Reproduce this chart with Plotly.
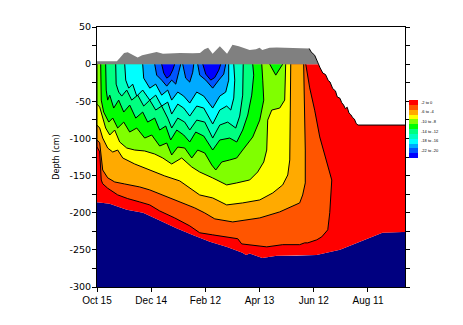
import pandas as pd
import plotly.graph_objects as go

START = pd.Timestamp("1997-10-15")
END_DAY = 341

# ---- band colours, warmest (top of key) to coldest ----
band_colors = ["#FF0000", "#FF5500", "#FFAA00", "#FFFF00", "#80FF00", "#00FF00",
               "#00FF80", "#00FFC0", "#00FFFF", "#00AAFF", "#0055FF", "#0000FF"]
band_labels = ["-2 to 0", "-4 to -2", "-6 to -4", "-8 to -6", "-10 to -8", "-12 to -10",
               "-14 to -12", "-16 to -14", "-18 to -16", "-20 to -18", "-22 to -20", "-24 to -22"]
water_color = "#000080"
snow_color = "#808080"

# ---- snow surface (cm above ice top), days since Oct 15 ----
snow_day = [0, 22, 25, 30, 34, 40, 45, 50, 56, 62, 66, 73, 92, 106, 114, 119, 123, 128,
            136, 144, 150, 157, 169, 176, 180, 183, 191, 199, 224, 235, 237, 241, 245]
snow_top = [4, 4, 8, 15, 16, 12, 9, 12, 14, 15, 16.5, 14, 15, 14.5, 15, 20, 22, 14,
            24, 14, 26, 24, 19, 20, 22, 19, 22, 22.5, 22, 21, 16.5, 12, 0]

# ---- ice surface during melt ----
surf_day = [245, 247, 250, 253, 256, 258, 261, 264, 266, 269, 271, 273, 275, 277, 279,
            281, 283, 285, 287, 289, 341]
surf_depth = [0, -5, -12, -14, -22, -24, -33, -36, -44, -46, -52, -55, -60, -58, -66,
              -68, -72, -74, -80, -82, -82]

# ---- ice bottom ----
bot_day = [0, 14, 33, 51, 69, 88, 106, 125, 144, 161, 165, 169, 183, 199, 221, 243,
           269, 291, 316, 338, 341]
bot_depth = [-186, -188, -196, -200, -210, -221, -230, -239, -246, -254, -257, -255,
             -261, -258, -258, -257, -250, -239, -227, -226, -226]

# ---- isotherm outlines: region colder than each band edge (days, cm) ----
iso1_day = [0, 0, 3, 4.1, 4.7, 6.3, 11.8, 22.9, 34, 47.3, 58.4, 69.4, 86, 102.7, 113.7,
            128.1, 143.6, 155.8, 160.2, 169.1, 187.9, 205.6, 224.4, 229.9, 233.3, 243.3,
            248.8, 255.5, 257.7, 259.9, 253.2, 246.6, 241, 235.5, 231.1]
iso1_depth = [0, -111.5, -118, -136, -156, -161, -167, -176, -181, -185.5, -189.5, -197.6,
              -207, -217.7, -227, -229.8, -232.5, -235, -242, -243, -246, -243, -243,
              -240.6, -240.6, -236.5, -232.5, -223, -200, -156, -128, -98, -62, -32, 0]

iso2_day = [0, 0, 3, 4.7, 6.3, 11.8, 19.6, 30.7, 47.3, 58.4, 75, 91.6, 108.2, 119.3, 130.4,
            150.3, 163.6, 180.2, 202.3, 218.9, 224.4, 227.7, 230.6, 230.6, 229.9, 228.8]
iso2_depth = [0, -102, -106, -129, -142.5, -153, -158.6, -161.3, -165.3, -169.3, -177.4,
              -185.5, -193.5, -200.3, -208.3, -212.4, -209.7, -207, -198.9, -189.5, -186.8,
              -176.1, -159.9, -115.6, -61.8, 0]

iso3_day = [0, 0, 3, 6.3, 11.8, 17.4, 22.9, 28.5, 41.7, 58.4, 75, 91.6, 102.7, 113.7, 128.1,
            143.6, 161.3, 180.2, 194.6, 205.6, 211.2, 213.4, 214, 214.5]
iso3_depth = [0, -82, -86, -99.5, -112.9, -118.3, -115.6, -126.3, -134.4, -142.5, -150.5,
              -157.2, -166.7, -176.1, -180.1, -189.5, -186.8, -182.8, -173.4, -162.6, -149.2,
              -129, -61.8, 0]

iso4_day = [0, 0, 3, 6.3, 9.6, 14.1, 19.6, 25.1, 32.9, 41.7, 52.8, 63.9, 72.8, 82.7, 93.8,
            104.9, 113.7, 128.1, 143.6, 154.7, 169.1, 177.9, 184.6, 187.9, 189, 193.5, 202.3,
            207.8, 208.9]
iso4_depth = [0, -53.8, -57.8, -72.6, -86, -95.4, -88.7, -104.8, -112.9, -115.6, -116.9,
              -121, -126.3, -134.4, -126.3, -138.4, -145.2, -153.2, -162.6, -159.9, -155.9,
              -145.2, -131.7, -115.6, -75.3, -61.8, -59.1, -48.4, 0]

iso5_day = [4.1, 4.7, 7.4, 13, 17.4, 22.9, 29.6, 36.2, 44, 52.8, 60.6, 69.4, 77.2, 82.7, 89.4,
            97.1, 104.9, 111.5, 119.3, 127, 131.5, 138.1, 146.9, 154.7, 161.3, 172.4, 180.2,
            184.6, 183.5, 182.4]
iso5_depth = [0, -48.4, -64.5, -78, -72.6, -86, -78, -91.4, -86, -99.5, -95.4, -110.2,
              -106.2, -122.3, -111.6, -112.9, -126.3, -115.6, -119.6, -135.7, -142.5, -131.7,
              -129, -126.3, -115.6, -98.1, -75.3, -48.4, -21.5, 0]
iso5b_day = [191.2, 197.9, 205.6]
iso5b_depth = [0, -14.8, 0]

iso6_day = [9.6, 10.2, 11.8, 14.1, 18.5, 24, 29.6, 36.2, 42.9, 50.6, 56.1, 63.9, 69.4, 76.1,
            81.6, 88.3, 96, 102.7, 109.3, 118.2, 128.1, 135.9, 146.9, 154.7, 161.3, 166.9,
            171.3, 173.5, 172.4]
iso6_depth = [0, -34.9, -48.4, -41.7, -59.1, -48.4, -64.5, -55.1, -72.6, -64.5, -78, -72.6,
              -88.7, -83.3, -102.1, -88.7, -95.4, -104.8, -91.4, -96.8, -115.6, -102.1,
              -99.5, -104.8, -88.7, -68.5, -41.7, -14.8, 0]

iso7_day = [20.7, 21.2, 24, 27.4, 32.9, 38.4, 45.1, 51.7, 58.4, 65, 71.6, 78.3, 82.7,
            89.4, 97.1, 102.7, 110.4, 119.3, 128.1, 135.9, 144.7, 153.6, 158, 161.3, 161.9]
iso7_depth = [0, -26.9, -37.6, -43, -34.9, -48.4, -41.7, -56.4, -48.4, -61.8, -56.4,
              -72.6, -86, -72.6, -78, -88.7, -75.3, -78, -99.5, -82, -78, -86, -69.9, -41.7, 0]

iso8_day = [30.7, 31.8, 35.1, 39.5, 44, 50.6, 58.4, 65, 71.6, 78.3, 82.7, 89.4, 96, 102.7,
            110.4, 118.2, 128.1, 135.9, 143.6, 148.1, 151.4, 152.5, 151.4]
iso8_depth = [0, -21.5, -32.3, -26.9, -43, -34.9, -48.4, -41.7, -56.4, -51.1, -67.2, -53.8,
              -59.1, -69.9, -56.4, -59.1, -80.6, -61.8, -56.4, -61.8, -45.7, -21.5, 0]

iso9_day = [50.6, 51.7, 58.4, 65, 71.6, 78.3, 82.7, 89.4, 96, 102.7, 110.4, 118.2, 128.1,
            135.9, 142.5, 145.8, 145.8]
iso9_depth = [0, -18.8, -32.3, -26.9, -41.7, -34.9, -48.4, -37.6, -43, -52.4, -37.6, -43,
              -59.1, -43, -37.6, -21.5, 0]

iso10a_day = [63.9, 66.1, 71.6, 77.2, 82.7, 87.2, 90.5, 92.7]
iso10a_depth = [0, -14.8, -21.5, -29.6, -21.5, -26.9, -10.8, 0]
iso10b_day = [94.9, 98.2, 102.7, 106, 107.1]
iso10b_depth = [0, -18.8, -24.2, -10.8, 0]
iso10c_day = [111.5, 113.7, 120.4, 128.1, 134.8, 140.3, 142.5]
iso10c_depth = [0, -14.8, -21.5, -32.3, -21.5, -13.4, 0]

iso11a_day = [71.6, 73.9, 77.2, 80.5, 83.8, 86]
iso11a_depth = [0, -12, -18.8, -16, -8, 0]
iso11b_day = [117.1, 120.4, 125.9, 130.4, 134.8, 137]
iso11b_depth = [0, -13.4, -21.5, -18, -8.1, 0]

tick_days = [0, 60, 120, 180, 240, 300]
tick_text = ["Oct 15", "Dec 14", "Feb 12", "Apr 13", "Jun 12", "Aug 11"]
depth_ticks = list(range(-300, 51, 25))
depth_text = [str(v) if v % 50 == 0 else "" for v in depth_ticks]


def dates(days):
    return [START + pd.Timedelta(days=d) for d in days]


fig = go.Figure()


def polygon(days, depths, color, line=True):
    fig.add_trace(go.Scatter(
        x=dates(days), y=depths, mode="lines", fill="toself", fillcolor=color,
        line=dict(color="black" if line else color, width=1 if line else 0),
        hoverinfo="skip", showlegend=False))


# water below the ice
polygon(bot_day + [END_DAY, 0], bot_depth + [-300, -300], water_color, line=False)
# ice (warmest band) between top surface and bottom
top_day = [0] + surf_day
top_depth = [0] + surf_depth
polygon(top_day + bot_day[::-1], top_depth + bot_depth[::-1], band_colors[0], line=False)

# colder bands, warm to cold
iso_sets = [
    [(iso1_day, iso1_depth)],
    [(iso2_day, iso2_depth)],
    [(iso3_day, iso3_depth)],
    [(iso4_day, iso4_depth)],
    [(iso5_day, iso5_depth), (iso5b_day, iso5b_depth)],
    [(iso6_day, iso6_depth)],
    [(iso7_day, iso7_depth)],
    [(iso8_day, iso8_depth)],
    [(iso9_day, iso9_depth)],
    [(iso10a_day, iso10a_depth), (iso10b_day, iso10b_depth), (iso10c_day, iso10c_depth)],
    [(iso11a_day, iso11a_depth), (iso11b_day, iso11b_depth)],
]
for k, patches in enumerate(iso_sets, start=1):
    for d, z in patches:
        polygon(d, z, band_colors[k])

# snow layer
polygon(snow_day + [0], snow_top + [0], snow_color, line=False)

# outline of the melting surface
edge_day = snow_day[-4:] + surf_day[1:]
edge_depth = snow_top[-4:] + surf_depth[1:]
fig.add_trace(go.Scatter(x=dates(edge_day), y=edge_depth, mode="lines",
                         line=dict(color="black", width=1), hoverinfo="skip",
                         showlegend=False))

# colour key
fig.add_trace(go.Heatmap(
    z=[[i] for i in range(len(band_colors))],
    x=[0], y=band_labels,
    colorscale=[[i / (len(band_colors) - 1), c] for i, c in enumerate(band_colors)],
    zmin=0, zmax=len(band_colors) - 1, showscale=False, hoverinfo="skip",
    xaxis="x2", yaxis="y2"))

W_PLOT = 366.0
fig.update_layout(
    width=463, height=325,
    margin=dict(l=97, r=0, t=27, b=38),
    paper_bgcolor="white", plot_bgcolor="white",
    font=dict(family="Liberation Sans", size=10, color="black"),
    xaxis=dict(
        domain=[0, 308 / W_PLOT], type="date",
        range=[START, START + pd.Timedelta(days=END_DAY)],
        tickvals=dates(tick_days), ticktext=tick_text,
        ticks="outside", ticklen=4, tickcolor="black",
        showline=True, linecolor="black", linewidth=1, mirror=True,
        showgrid=False, zeroline=False,
        tickfont=dict(family="Liberation Sans", size=10),
    ),
    yaxis=dict(
        range=[-300, 50], tickvals=depth_ticks, ticktext=depth_text,
        ticks="outside", ticklen=4, tickcolor="black",
        showline=True, linecolor="black", linewidth=1, mirror="ticks",
        showgrid=False, zeroline=False,
        title=dict(text="Depth (cm)", font=dict(family="DejaVu Sans", size=8), standoff=8),
        tickfont=dict(family="DejaVu Sans", size=9.5),
        ticklabelstandoff=-1,
    ),
    xaxis2=dict(domain=[312 / W_PLOT, 321 / W_PLOT], anchor="y2", visible=False,
                fixedrange=True),
    yaxis2=dict(domain=[(287 - 158) / 260, (287 - 100) / 260], anchor="x2",
                side="right", autorange="reversed", showline=False, ticks="",
                showgrid=False, tickfont=dict(size=4), ticklabelstandoff=2),
)

fig.write_html("out.html")
